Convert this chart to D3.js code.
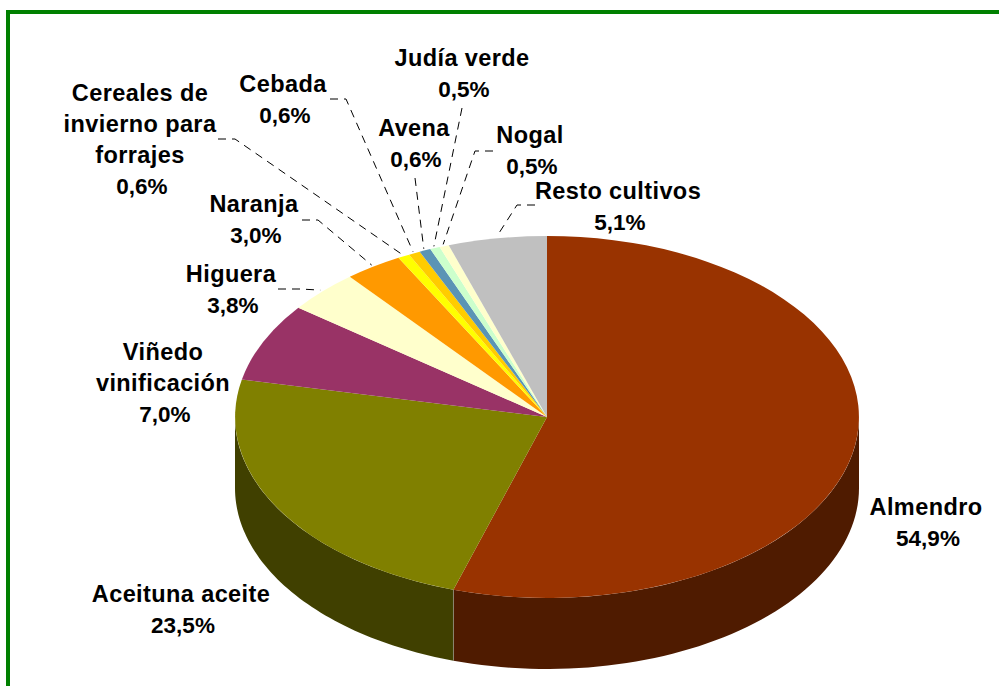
<!DOCTYPE html>
<html><head><meta charset="utf-8">
<script src="https://cdnjs.cloudflare.com/ajax/libs/d3/7.8.5/d3.min.js"></script>
<style>html,body{margin:0;padding:0;background:#fff;overflow:hidden}
text{font-family:"Liberation Sans",Arial,sans-serif;font-weight:bold;font-size:23.5px;fill:#000;text-anchor:middle}
.name{letter-spacing:.4px}.val{font-size:22.5px}</style>
</head><body><svg id="c" width="999" height="686"></svg>
<script>
const categories=["Almendro","Aceituna aceite","Viñedo vinificación","Higuera","Naranja","Cereales de invierno para forrajes","Cebada","Avena","Judía verde","Nogal","Resto cultivos"];
const values=[54.9,23.5,7.0,3.8,3.0,0.6,0.6,0.6,0.5,0.5,5.1];
const valueLabels=["54,9%","23,5%","7,0%","3,8%","3,0%","0,6%","0,6%","0,6%","0,5%","0,5%","5,1%"];
const topColors=["#993300","#808000","#993366","#FFFFCC","#FF9900","#FFFF00","#FFCC00","#5B94B5","#CCFFCC","#FFFFCC","#C0C0C0"];
const wallColors=["#4F1B00","#404000","#4F1A35","#808066","#804D00","#808000","#806600","#2E4A5A","#668066","#808066","#606060"];
// label layout: wrapped lines, centre x, first line's centre y
const labelLines=[["Almendro"],["Aceituna aceite"],["Viñedo","vinificación"],["Higuera"],["Naranja"],["Cereales de","invierno para","forrajes"],["Cebada"],["Avena"],["Judía verde"],["Nogal"],["Resto cultivos"]];
const labelX=[926,181,163,231,254,140,283,414,462,530,618];
const labelY=[506,593,351,273,203,92,83,127,57,134,190];
// leader layout: [start, elbow] points (empty = no leader)
const leaders=[[],[],[],[[278,289],[300,289]],[[302,220],[318,220]],[[218,139],[235,139]],[[330,99],[346,99]],[[415,178]],[[462,108]],[[493,151],[475,151]],[[535,205],[517,205]]];

const cx=547,cy=417,rx=312,ry=181,depth=71,lineH=31;
const svg=d3.select("#c");
svg.append("rect").attr("x",8).attr("y",12).attr("width",1100).attr("height",800)
  .attr("fill","#fff").attr("stroke","#008000").attr("stroke-width",4);

const arcs=d3.pie().value(d=>d).sort(null)(values);
const px=a=>cx+rx*Math.sin(a), py=a=>cy-ry*Math.cos(a);
const arc=d3.arc().innerRadius(0).outerRadius(1);

// side walls (only the front half of the rim shows)
const wallLine=d3.line().x(d=>d[0]).y(d=>d[1]);
const g=svg.append("g");
arcs.forEach((d,i)=>{
  const a0=Math.max(d.startAngle,Math.PI/2),a1=Math.min(d.endAngle,Math.PI*1.5);
  if(a1<=a0)return;
  const as=d3.range(0,61).map(k=>a0+(a1-a0)*k/60);
  const pts=as.map(a=>[px(a),py(a)]).concat(as.slice().reverse().map(a=>[px(a),py(a)+depth]));
  g.append("path").attr("d",wallLine(pts)+"Z").attr("fill",wallColors[i]);
});
// seam between the two wall faces
const seam=arcs[0].endAngle;
g.append("path").attr("d",wallLine([[px(seam),py(seam)],[px(seam),py(seam)+depth]]))
  .attr("stroke","#8a8570").attr("stroke-width",1).attr("fill","none");

// top face
svg.append("g").attr("transform",`translate(${cx},${cy}) scale(${rx},${ry})`)
  .selectAll("path").data(arcs).join("path")
  .attr("d",arc).attr("fill",(d,i)=>topColors[i]);

// leaders
arcs.forEach((d,i)=>{
  if(!leaders[i].length)return;
  const m=(d.startAngle+d.endAngle)/2,k=1.01;
  const end=[cx+rx*k*Math.sin(m),cy-ry*k*Math.cos(m)];
  svg.append("path").attr("d",wallLine(leaders[i].concat([end])))
    .attr("fill","none").attr("stroke","#000").attr("stroke-width",1).attr("stroke-dasharray","8 6");
});

// labels
categories.forEach((c,i)=>{
  const t=svg.append("text").attr("data-name",c);
  labelLines[i].forEach((l,j)=>t.append("tspan").attr("class","name").attr("x",labelX[i]).attr("y",labelY[i]+9+j*lineH).text(l));
  t.append("tspan").attr("class","val").attr("x",labelX[i]+2).attr("y",labelY[i]+9+labelLines[i].length*lineH).text(valueLabels[i]);
});
</script></body></html>
